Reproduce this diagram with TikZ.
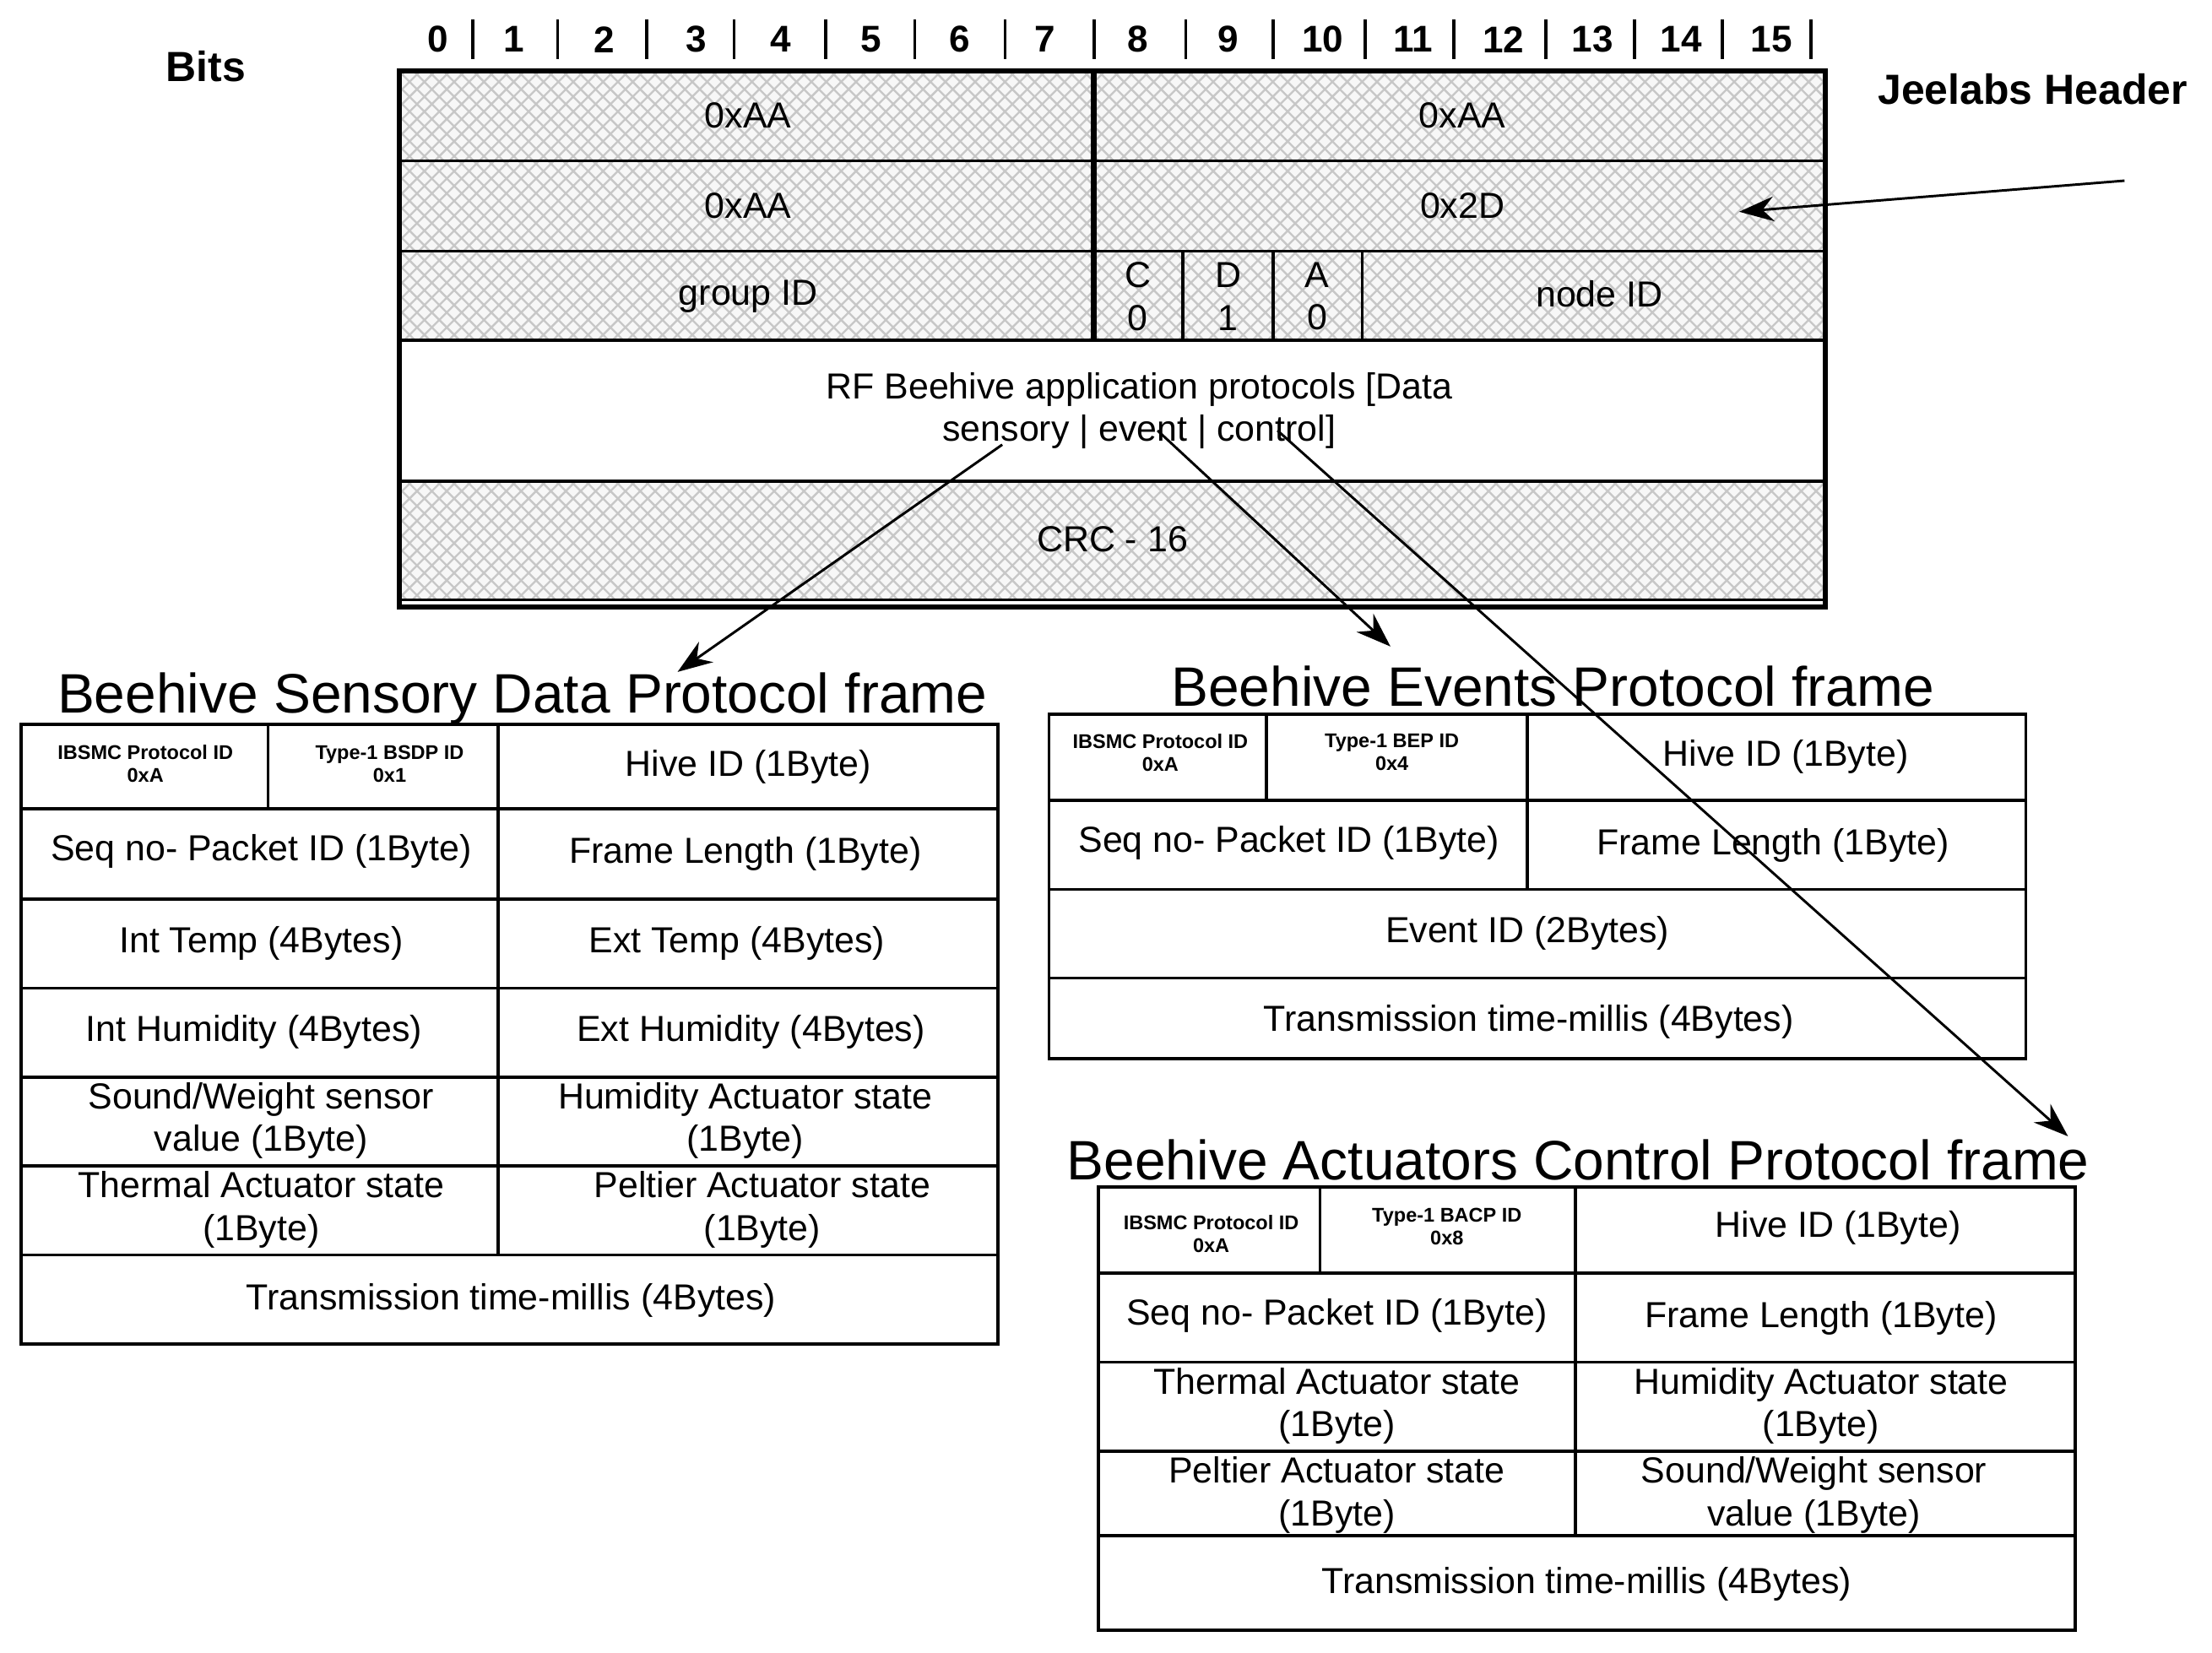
\documentclass[tikz,border=0pt]{standalone}
\usepackage{fontspec}
\setmainfont{Liberation Sans}
\usetikzlibrary{patterns,arrows.meta}
\begin{document}
\begin{tikzpicture}[x=0.1mm,y=-0.1mm,
  box/.style={draw,line width=0.6pt},
  hat/.style={pattern=crosshatch,pattern color=black!22},
  txt/.style={font=\fontsize{7.3}{8.6}\selectfont,align=center,inner sep=0},
  sm/.style={font=\bfseries\fontsize{4}{4.6}\selectfont,align=center,inner sep=0},
  ttl/.style={font=\fontsize{11.2}{12}\selectfont,inner sep=0},
  bit/.style={font=\bfseries\fontsize{7.5}{9}\selectfont,inner sep=0},
  arr/.style={line width=0.5pt,-{Stealth[length=7pt,width=5pt]}}]
\useasboundingbox (0,0) rectangle (1567,1170.5);
% header
\fill[black!3] (283,50) rectangle (1293,241);
\fill[black!3] (283,341) rectangle (1293,425);
\fill[hat] (283,50) rectangle (1293,241);
\fill[hat] (283,341) rectangle (1293,425);
\draw[box,line width=1pt] (283,50) rectangle (1293,430);
\draw[box] (283,114) -- (1293,114) (283,178) -- (1293,178) (283,241) -- (1293,241) (283,341) -- (1293,341) (283,425) -- (1293,425);
\draw[box,line width=1.2pt] (775,50) -- (775,241);
\draw[box] (838,178) -- (838,241) (902,178) -- (902,241) (965,178) -- (965,241);
\foreach \n/\x in {0/310,1/364,2/428,3/493,4/553,5/617,6/680,7/740,8/806,9/870,10/937,11/1001,12/1065,13/1128,14/1191,15/1255}
  \node[bit] (b\n) at (\x,28) {\n};
\foreach \x in {335,395,458,520,585,648,712,775,840,902,967,1030,1095,1158,1220,1283}
  \draw[line width=0.6pt] (\x,14) -- (\x,42);
\node[bit,font=\bfseries\fontsize{8.5}{10}\selectfont] (bits) at (146,47) {Bits};
\node[bit,font=\bfseries\fontsize{8.5}{10}\selectfont] (jee) at (1440,63) {Jeelabs Header};
\node[txt] (h1) at (530,82) {0xAA};
\node[txt] (h2) at (1036,82) {0xAA};
\node[txt] (h3) at (530,146) {0xAA};
\node[txt] (h4) at (1036,146) {0x2D};
\node[txt] (h5) at (530,210) {group ID};
\node[txt] (hc) at (806,210) {C\\0};
\node[txt] (hd) at (870,210) {D\\1};
\node[txt] (ha) at (933,210) {A\\0};
\node[txt] (hn) at (1133,208) {node ID};
\node[txt] (rf) at (807,291) {RF Beehive application protocols [Data\\sensory | event | control]};
\node[txt] (crc) at (788,382) {CRC - 16};
\coordinate (jfrom) at (1505,128);
\coordinate (jto) at (1232,150);
\draw[arr] (jfrom) -- (jto);
\coordinate (s1) at (710,315); \coordinate (s2) at (480,476);
\coordinate (e1) at (820,305); \coordinate (e2) at (985,458);
\coordinate (c1) at (905,305); \coordinate (c2) at (1465,805);
% sensory
\node[ttl] (t1) at (370,495) {Beehive Sensory Data Protocol frame};
\draw[box] (15,513) rectangle (707,952);
\foreach \y in {573,637,700,763,826,889} \draw[box] (15,\y) -- (707,\y);
\draw[box] (353,513) -- (353,889) (190,513) -- (190,573);
\node[sm] (a1) at (103,541) {IBSMC Protocol ID\\0xA};
\node[sm] (a2) at (276,541) {Type-1 BSDP ID\\0x1};
\node[txt] (a3) at (530,543) {Hive ID (1Byte)};
\node[txt] (a4) at (185,603) {Seq no- Packet ID (1Byte)};
\node[txt] (a5) at (528,605) {Frame Length (1Byte)};
\node[txt] (a6) at (185,668) {Int Temp (4Bytes)};
\node[txt] (a7) at (522,668) {Ext Temp (4Bytes)};
\node[txt] (a8) at (180,731) {Int Humidity (4Bytes)};
\node[txt] (a9) at (532,731) {Ext Humidity (4Bytes)};
\node[txt] (a10) at (185,794) {Sound/Weight sensor\\value (1Byte)};
\node[txt] (a11) at (528,794) {Humidity Actuator state\\(1Byte)};
\node[txt] (a12) at (185,857) {Thermal Actuator state\\(1Byte)};
\node[txt] (a13) at (540,857) {Peltier Actuator state\\(1Byte)};
\node[txt] (a14) at (362,921) {Transmission time-millis (4Bytes)};
% events
\node[ttl] (t2) at (1100,486) {Beehive Events Protocol frame};
\draw[box] (743,506) rectangle (1435,750);
\foreach \y in {567,630,693} \draw[box] (743,\y) -- (1435,\y);
\draw[box] (1082,506) -- (1082,630) (897,506) -- (897,567);
\node[sm] (e3) at (822,533) {IBSMC Protocol ID\\0xA};
\node[sm] (e4) at (986,533) {Type-1 BEP ID\\0x4};
\node[txt] (e5) at (1265,536) {Hive ID (1Byte)};
\node[txt] (e6) at (913,597) {Seq no- Packet ID (1Byte)};
\node[txt] (e7) at (1256,599) {Frame Length (1Byte)};
\node[txt] (e8) at (1082,661) {Event ID (2Bytes)};
\node[txt] (e9) at (1083,724) {Transmission time-millis (4Bytes)};
% actuators
\node[ttl] (t3) at (1118,822) {Beehive Actuators Control Protocol frame};
\draw[box] (778,841) rectangle (1470,1155);
\foreach \y in {902,965,1028,1088} \draw[box] (778,\y) -- (1470,\y);
\draw[box] (1116,841) -- (1116,1088) (935,841) -- (935,902);
\node[sm] (c3) at (858,874) {IBSMC Protocol ID\\0xA};
\node[sm] (c4) at (1025,869) {Type-1 BACP ID\\0x8};
\node[txt] (c5) at (1302,870) {Hive ID (1Byte)};
\node[txt] (c6) at (947,932) {Seq no- Packet ID (1Byte)};
\node[txt] (c7) at (1290,934) {Frame Length (1Byte)};
\node[txt] (c8) at (947,996) {Thermal Actuator state\\(1Byte)};
\node[txt] (c9) at (1290,996) {Humidity Actuator state\\(1Byte)};
\node[txt] (c10) at (947,1059) {Peltier Actuator state\\(1Byte)};
\node[txt] (c11) at (1285,1059) {Sound/Weight sensor\\value (1Byte)};
\node[txt] (c12) at (1124,1122) {Transmission time-millis (4Bytes)};
% arrows
\draw[arr] (s1) -- (s2);
\draw[arr] (e1) -- (e2);
\draw[arr] (c1) -- (c2);
\end{tikzpicture}
\end{document}
